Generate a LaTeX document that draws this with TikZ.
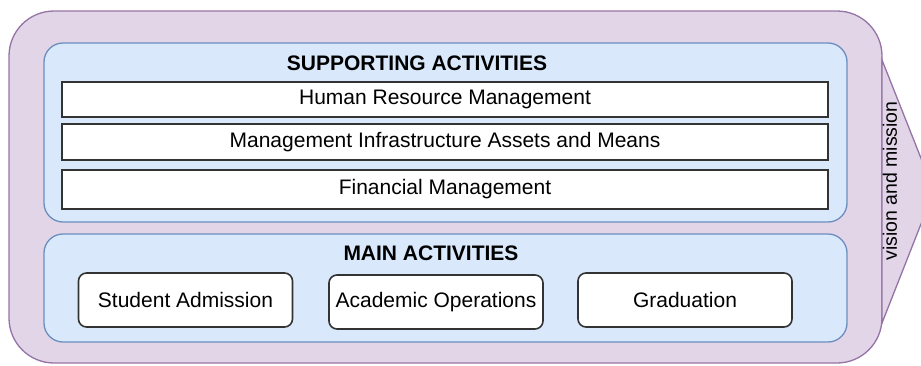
\documentclass[tikz,border=0pt]{standalone}
\usepackage{fontspec}
\setmainfont{Liberation Sans}
\definecolor{vmFill}{HTML}{E1D5E7}
\definecolor{vmLine}{HTML}{9673A6}
\definecolor{laneFill}{HTML}{DAE8FC}
\definecolor{laneLine}{HTML}{6C8EBF}
\newcommand{\boxFont}{\fontsize{21}{25}\selectfont}
\tikzset{
  vmBody/.style={draw=vmLine, fill=vmFill, line width=1.3pt},
  laneBox/.style={draw=laneLine, fill=laneFill, line width=1.3pt, rounded corners=19pt, minimum width=803pt},
  supportBox/.style={draw=black!80, fill=white, line width=1.6pt, minimum width=766pt, inner sep=2pt, font=\boxFont},
  mainBox/.style={draw=black!80, fill=white, line width=1.6pt, rounded corners=8pt, minimum width=214pt, minimum height=54pt, inner sep=2pt, font=\boxFont},
  laneTitle/.style={anchor=base, font=\boxFont\bfseries}
}

\begin{document}
\begin{tikzpicture}[x=1pt, y=-1pt]
  \useasboundingbox (0,0) rectangle (921,365);
  % Outer shape
  \draw[vmBody, rounded corners=45pt] (9,11) rectangle (882,363);
  \draw[vmBody] (882,60) -- (934,191) -- (882,323) -- cycle;
  \node[rotate=90, font=\fontsize{19.5}{23}\selectfont] (vision) at (890,181) {vision and mission};

  % Supporting activities
  \node[laneBox, minimum height=179pt] (support) at (445.5,132.5) {};
  \node[laneTitle] (supportTitle) at (417,70) {SUPPORTING ACTIVITIES};
  \node[supportBox, minimum height=35pt] (hrm) at (445,99.5) {Human Resource Management};
  \node[supportBox, minimum height=36pt] (infra) at (445,142) {Management Infrastructure Assets and Means};
  \node[supportBox, minimum height=39pt] (finance) at (445,189.5) {Financial Management};

  % Main activities
  \node[laneBox, minimum height=108pt] (main) at (445.5,288) {};
  \node[laneTitle] (mainTitle) at (431,260) {MAIN ACTIVITIES};
  \node[mainBox] (admission) at (185.5,300) {Student Admission};
  \node[mainBox] (academic) at (436,302) {Academic Operations};
  \node[mainBox] (graduation) at (685,300) {Graduation};
\end{tikzpicture}
\end{document}
